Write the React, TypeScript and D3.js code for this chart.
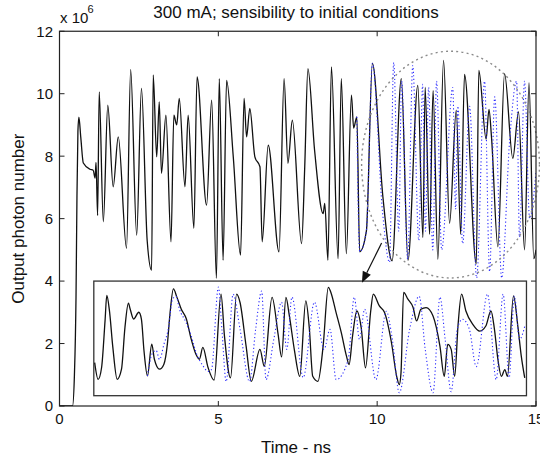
import React from "react";
import * as d3 from "d3";

// ---- Data (time in ns, photon number in units of 1e6) ----
const mainT = [0, 0.41, 0.47, 0.52, 0.55, 0.58, 0.61, 0.67, 0.75, 0.96, 1.06, 1.12, 1.15, 1.2, 1.25, 1.38, 1.52, 1.69, 1.85, 2.11, 2.24, 2.43, 2.58, 2.76, 2.9, 2.95, 3.06, 3.14, 3.21, 3.35, 3.51, 3.6, 3.69, 3.77, 3.95, 4.05, 4.23, 4.33, 4.63, 4.79, 4.94, 5.03, 5.15, 5.26, 5.47, 5.7, 5.81, 5.89, 5.99, 6.15, 6.31, 6.38, 6.57, 6.91, 7.07, 7.19, 7.33, 7.62, 7.72, 7.82, 8.03, 8.3, 8.35, 8.45, 8.56, 8.77, 8.87, 9.03, 9.19, 9.26, 9.36, 9.45, 9.66, 9.85, 10.18, 10.47, 10.76, 10.97, 11.28, 11.44, 11.51, 11.65, 11.76, 11.91, 12.09, 12.28, 12.49, 12.63, 12.75, 13.12, 13.2, 13.43, 13.52, 13.6, 13.8, 14.01, 14.27, 14.45, 14.64, 14.78, 14.93, 15.0];
const mainV = [0, 0, 1.0, 3.5, 6.75, 8.8, 9.25, 8.6, 7.78, 7.58, 7.55, 7.3, 7.8, 6.1, 10.06, 5.9, 9.63, 7.02, 8.62, 5.05, 10.77, 5.47, 10.17, 5.3, 4.35, 10.6, 7.98, 9.74, 7.45, 9.31, 5.26, 9.31, 9.0, 9.85, 7.02, 9.31, 5.69, 10.54, 6.43, 9.79, 4.09, 10.48, 4.67, 10.43, 7.98, 4.83, 9.85, 8.62, 9.53, 7.98, 7.66, 5.26, 8.35, 4.94, 10.48, 7.77, 9.15, 5.2, 7.66, 10.8, 8.19, 6.16, 6.49, 4.67, 10.86, 4.72, 10.48, 4.88, 9.95, 8.9, 9.26, 4.94, 5.6, 10.97, 6.7, 4.65, 10.48, 4.67, 10.27, 5.4, 10.2, 5.5, 10.1, 4.7, 11.07, 5.85, 9.47, 5.5, 10.62, 4.55, 10.75, 8.55, 9.5, 8.6, 5.1, 10.64, 7.93, 9.42, 5.0, 10.35, 4.72, 5.0];

const pertT = [9.36, 9.45, 9.66, 9.85, 10.17, 10.39, 10.52, 10.68, 10.77, 10.96, 11.12, 11.31, 11.43, 11.52, 11.62, 11.75, 11.87, 12.03, 12.38, 12.47, 12.54, 12.69, 12.91, 13.13, 13.38, 13.54, 13.7, 13.92, 14.17, 14.39, 14.48, 14.64, 14.8, 15.0];
const pertV = [9.26, 4.94, 5.6, 10.97, 6.2, 4.6, 11.0, 5.6, 10.4, 4.7, 10.9, 5.3, 10.3, 5.6, 10.2, 5.0, 10.4, 5.0, 10.2, 6.3, 9.6, 5.2, 9.6, 4.1, 10.4, 4.3, 9.9, 4.1, 8.5, 10.4, 5.4, 10.4, 6.0, 7.5];

// inset (zoomed comparison)
const insetT = [10.01, 10.05, 10.09, 10.13, 10.15, 10.18, 10.22, 10.27, 10.32, 10.36, 10.4, 10.42, 10.46, 10.52, 10.55, 10.58, 10.62, 10.67, 10.7, 10.76, 10.81, 10.85, 10.88, 10.92, 10.96, 11.01, 11.07, 11.12, 11.18, 11.22, 11.26, 11.32, 11.39, 11.47, 11.51, 11.58, 11.65, 11.69, 11.76, 11.82, 11.92, 11.97, 12.06, 12.13, 12.17, 12.22, 12.26, 12.32, 12.38, 12.45, 12.49, 12.53, 12.59, 12.65, 12.71, 12.74, 12.8, 12.86, 12.92, 12.95, 12.99, 13.04, 13.09, 13.14, 13.2, 13.23, 13.3, 13.36, 13.44, 13.5, 13.53, 13.55, 13.58, 13.63, 13.69, 13.73, 13.78, 13.84, 13.92, 14.0, 14.05, 14.09, 14.13, 14.17, 14.21, 14.25, 14.3, 14.38, 14.46, 14.53, 14.59, 14.63, 14.67, 14.71, 14.75, 14.78, 14.85, 14.9, 14.94, 14.98];
const insetV = [4.89, 3.43, 4.46, 8.55, 10.75, 9.46, 6.21, 3.43, 4.31, 7.96, 10.07, 9.57, 8.69, 9.28, 8.69, 5.92, 3.73, 6.5, 5.18, 4.31, 4.75, 6.5, 9.13, 11.32, 10.6, 9.57, 8.69, 7.09, 5.62, 5.18, 6.21, 4.46, 3.36, 10.86, 7.2, 3.55, 10.86, 10.13, 6.32, 3.25, 6.04, 4.57, 10.57, 7.35, 5.38, 10.57, 8.96, 5.89, 3.69, 10.27, 7.94, 3.69, 3.25, 6.32, 11.45, 11.01, 9.25, 7.5, 5.45, 4.72, 7.2, 9.39, 7.94, 4.43, 9.39, 10.86, 9.83, 9.25, 6.62, 3.69, 2.96, 3.99, 11.01, 10.42, 9.69, 8.52, 9.54, 9.69, 8.96, 6.32, 3.69, 6.47, 6.04, 3.69, 8.23, 10.86, 9.39, 8.23, 7.64, 8.08, 9.39, 7.79, 5.16, 3.69, 4.28, 3.69, 10.71, 8.08, 5.45, 3.55];

const insetPertT = [10.62, 10.67, 10.72, 10.76, 10.81, 10.86, 10.91, 10.95, 10.99, 11.06, 11.12, 11.19, 11.26, 11.32, 11.36, 11.44, 11.48, 11.53, 11.61, 11.69, 11.8, 11.87, 11.94, 11.99, 12.08, 12.17, 12.23, 12.29, 12.42, 12.55, 12.66, 12.73, 12.8, 12.94, 13.01, 13.07, 13.13, 13.26, 13.38, 13.45, 13.53, 13.65, 13.76, 13.83, 13.92, 14.0, 14.06, 14.13, 14.2, 14.26, 14.34, 14.42, 14.55, 14.65, 14.73, 14.8, 14.86, 14.92, 14.98];
const insetPertV = [3.73, 5.6, 5.95, 5.16, 6.47, 7.79, 10.42, 10.68, 9.54, 8.49, 7.35, 5.6, 4.63, 4.11, 4.28, 11.47, 7.79, 3.23, 10.86, 7.79, 3.23, 7.79, 11.12, 3.4, 6.91, 10.16, 6.04, 10.6, 3.58, 10.16, 6.04, 7.79, 3.4, 5.16, 10.6, 6.91, 9.54, 3.4, 9.37, 6.91, 2.26, 7.79, 10.68, 6.04, 2.26, 10.6, 6.91, 2.35, 7.79, 8.67, 7.79, 4.54, 10.86, 3.4, 10.86, 3.58, 10.68, 6.91, 8.05];

const xTicks = [0, 5, 10, 15];
const yTicks = [0, 2, 4, 6, 8, 10, 12];

// annotation positions, in data units of the main axes
const insetBox = { t0: 1.08, t1: 14.7, v0: 0.33, v1: 4.0 };
const ellipseC = { t: 12.31, v: 7.73, rt: 2.8, rv: 3.63 };
const arrowFrom = { t: 10.14, v: 5.22 };
const arrowTo = { t: 9.52, v: 3.95 };

const W = 540;
const H = 461;
const FONT = "'Liberation Sans', Arial, Helvetica, sans-serif";

export default function App() {
  const x = d3.scaleLinear().domain([0, 15]).range([59.5, 536]);
  const y = d3.scaleLinear().domain([0, 12]).range([406, 31.25]);

  const mkLine = (xs: any, ys: any) =>
    d3
      .line<[number, number]>()
      .x((d) => xs(d[0]))
      .y((d) => ys(d[1]))
      .curve(d3.curveMonotoneX);

  const mainPts = mainT.map((t, i) => [t, mainV[i]] as [number, number]);
  const pertPts = pertT.map((t, i) => [t, pertV[i]] as [number, number]);
  const mainPath = mkLine(x, y)(mainPts) || "";
  const pertPath = mkLine(x, y)(pertPts) || "";

  const ix0 = x(insetBox.t0);
  const ix1 = x(insetBox.t1);
  const iy0 = y(insetBox.v1);
  const iy1 = y(insetBox.v0);
  const xi = d3.scaleLinear().domain([10, 15]).range([ix0, ix1]);
  const yi = d3.scaleLinear().domain([2, 12]).range([iy1, iy0]);
  const insetPts = insetT.map((t, i) => [t, insetV[i]] as [number, number]);
  const insetPertPts = insetPertT.map((t, i) => [t, insetPertV[i]] as [number, number]);
  const insetPath = mkLine(xi, yi)(insetPts) || "";
  const insetPertPath = mkLine(xi, yi)(insetPertPts) || "";

  const ex = x(ellipseC.t);
  const ey = y(ellipseC.v);
  const erx = x(ellipseC.t + ellipseC.rt) - ex;
  const ery = ey - y(ellipseC.v + ellipseC.rv);

  const ax0 = x(arrowFrom.t), ay0 = y(arrowFrom.v);
  const ax1 = x(arrowTo.t), ay1 = y(arrowTo.v);
  const ang = Math.atan2(ay1 - ay0, ax1 - ax0);
  const hl = 11, hw = 4.5;
  const bx = ax1 - hl * Math.cos(ang), by = ay1 - hl * Math.sin(ang);
  const head = `M${ax1},${ay1} L${bx + hw * Math.sin(ang)},${by - hw * Math.cos(ang)} L${bx - hw * Math.sin(ang)},${by + hw * Math.cos(ang)} Z`;

  const L = x(0), R = x(15), T = y(12), B = y(0);
  const tk = 5;

  return (
    <svg
      width={W}
      height={H}
      style={{ position: "absolute", left: 0, top: 0, background: "#fff" }}
      fontFamily={FONT}
    >
      <rect x={0} y={0} width={W} height={H} fill="#fff" />
      <defs>
        <clipPath id="plotClip">
          <rect x={L} y={T} width={R - L} height={B - T} />
        </clipPath>
      </defs>

      {/* main traces */}
      <g clipPath="url(#plotClip)">
        <path d={mainPath} fill="none" stroke="#111" strokeWidth={1.3} />
        <path d={pertPath} fill="none" stroke="#2b2bff" strokeWidth={1.1} strokeDasharray="1.2 2.4" />
      </g>

      {/* ellipse highlight */}
      <ellipse cx={ex} cy={ey} rx={erx} ry={ery} fill="none" stroke="#8a8a8a" strokeWidth={1.4} strokeDasharray="2 3.2" />

      {/* inset */}
      <rect x={ix0} y={iy0} width={ix1 - ix0} height={iy1 - iy0} fill="#fff" stroke="#333" strokeWidth={1.3} />
      <path d={insetPath} fill="none" stroke="#111" strokeWidth={1.3} />
      <path d={insetPertPath} fill="none" stroke="#2b2bff" strokeWidth={1.1} strokeDasharray="1.2 2.4" />

      {/* arrow */}
      <line x1={ax0} y1={ay0} x2={bx} y2={by} stroke="#111" strokeWidth={1.2} />
      <path d={head} fill="#111" />

      {/* axes box */}
      <rect x={L} y={T} width={R - L} height={B - T} fill="none" stroke="#222" strokeWidth={1.2} />

      {/* ticks */}
      {xTicks.map((t) => (
        <g key={"xt" + t}>
          <line x1={x(t)} x2={x(t)} y1={B} y2={B - tk} stroke="#222" />
          <line x1={x(t)} x2={x(t)} y1={T} y2={T + tk} stroke="#222" />
          <text x={x(t)} y={424} fontSize={15} textAnchor="middle" fill="#111">
            {t}
          </text>
        </g>
      ))}
      {yTicks.map((v) => (
        <g key={"yt" + v}>
          <line x1={L} x2={L + tk} y1={y(v)} y2={y(v)} stroke="#222" />
          <line x1={R} x2={R - tk} y1={y(v)} y2={y(v)} stroke="#222" />
          <text x={53} y={y(v)} dy="0.36em" fontSize={15} textAnchor="end" fill="#111">
            {v}
          </text>
        </g>
      ))}

      {/* exponent */}
      <text x={60} y={23} fontSize={15} fill="#111">
        x 10
      </text>
      <text x={87.5} y={13} fontSize={11} fill="#111">
        6
      </text>

      {/* title and labels */}
      <text x={296} y={18} fontSize={17} textAnchor="middle" fill="#111">
        300 mA; sensibility to initial conditions
      </text>
      <text x={296} y={453} fontSize={17} textAnchor="middle" fill="#111">
        Time - ns
      </text>
      <text
        transform={`translate(24, ${(T + B) / 2}) rotate(-90)`}
        fontSize={17}
        textAnchor="middle"
        fill="#111"
      >
        Output photon number
      </text>
    </svg>
  );
}
